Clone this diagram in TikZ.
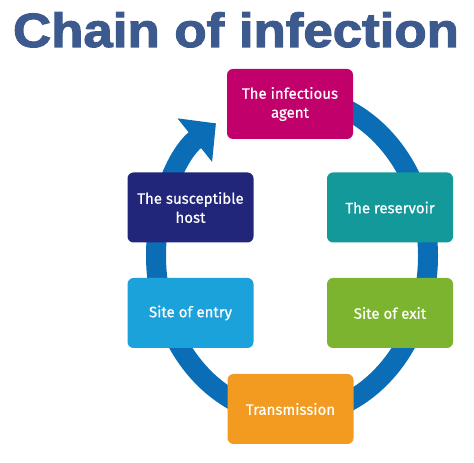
\documentclass[tikz,border=0pt]{standalone}
\usepackage{graphicx}
\usepackage{fontspec}
\setmainfont{Fira Sans}[FakeBold=0.6]
\newfontfamily\titlefont{Liberation Sans}[BoldFeatures={FakeBold=2.2}]
\usetikzlibrary{arrows.meta}
\definecolor{titleblue}{HTML}{3D5A8E}
\definecolor{ringblue}{HTML}{0B6DB6}
\definecolor{agentcol}{HTML}{C1006B}
\definecolor{hostcol}{HTML}{22267A}
\definecolor{reservoircol}{HTML}{13999A}
\definecolor{entrycol}{HTML}{1CA2DA}
\definecolor{exitcol}{HTML}{7CB42F}
\definecolor{transcol}{HTML}{F39B21}
\tikzset{
  stage/.style={rounded corners=6pt, minimum width=126pt, minimum height=70pt,
    text=white, align=center, inner sep=2pt, font=\fontsize{15}{19}\selectfont},
  ring/.style={line width=20pt, draw=ringblue}
}
\begin{document}
\begin{tikzpicture}[x=1pt,y=1pt]
\useasboundingbox (0,0) rectangle (474,463);
\node[anchor=base, text=titleblue, font=\titlefont\bfseries\fontsize{48}{48}\selectfont] (title) at (236,416) {\scalebox{1.1}[1]{Chain of infection}};
\pgfmathsetmacro\rx{136}
\pgfmathsetmacro\ry{160}
\coordinate (ctr) at (292,207);
\draw[ring, -{Triangle[width=54pt,length=27pt]}] (ctr) ++(95:\rx pt and \ry pt) arc[start angle=95, end angle=-236, x radius=\rx pt, y radius=\ry pt];
\node[stage, fill=agentcol] (agent) at (290,359) {The infectious\\agent};
\node[stage, fill=reservoircol] (reservoir) at (390,255.5) {The reservoir};
\node[stage, fill=exitcol] (exit) at (390,150) {Site of exit};
\node[stage, fill=transcol] (trans) at (290.5,54) {Transmission};
\node[stage, fill=entrycol] (entry) at (190.5,150) {Site of entry};
\node[stage, fill=hostcol] (host) at (190.5,255.5) {The susceptible\\host};
\end{tikzpicture}
\end{document}
